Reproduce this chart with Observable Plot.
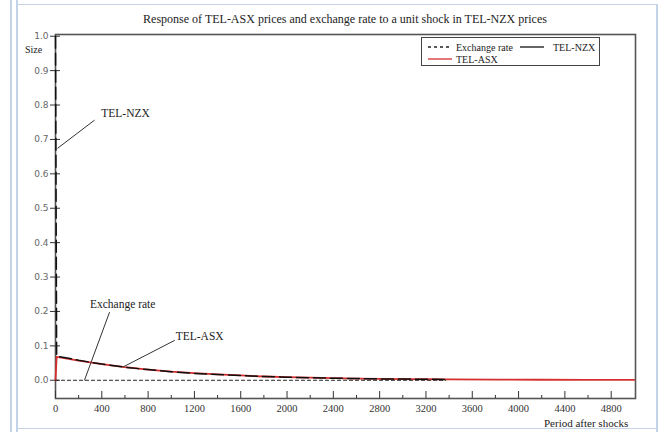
<!DOCTYPE html>
<html>
<head>
<meta charset="utf-8">
<script src="https://cdn.jsdelivr.net/npm/d3@7"></script>
<script src="https://cdn.jsdelivr.net/npm/@observablehq/plot@0.6"></script>
<style>
  html, body { margin: 0; padding: 0; background: #ffffff; }
  #wrap { position: relative; width: 663px; height: 432px; overflow: hidden; background: #fff; }
  .bl { position: absolute; background: #c3d3e8; }
  .txt { position: absolute; font-family: "Liberation Serif", serif; color: #222; white-space: nowrap; }
  #legend { position: absolute; left: 421px; top: 37px; width: 177px; height: 27px; border: 1px solid #444; background: #fff; }
</style>
</head>
<body>
<div id="wrap">
  <div class="bl" style="left:10px;top:0;width:2px;height:432px"></div>
  <div class="bl" style="left:16px;top:0;width:2px;height:432px"></div>
  <div class="bl" style="left:18px;top:4px;width:640px;height:1px"></div>
  <div class="bl" style="left:656px;top:4px;width:2px;height:428px"></div>
  <div class="bl" style="left:18px;top:428px;width:640px;height:1px"></div>
  <div id="chart" style="position:absolute;left:0;top:0"></div>
  <div class="txt" id="title" style="left:0;width:690px;text-align:center;top:12px;font-size:12px">Response of TEL-ASX prices and exchange rate to a unit shock in TEL-NZX prices</div>
  <div class="txt" style="left:25px;top:44px;font-size:10px">Size</div>
  <div class="txt" style="left:544px;top:417px;font-size:11px">Period after shocks</div>
  <div id="legend"></div>
</div>
<script>
// ---- data ----
const periods = [0, 10, 100, 200, 400, 600, 800, 1000, 1200, 1400, 1600, 1800, 2000, 2200, 2400, 2600, 2800, 3000, 3200, 3370];
const nzxValues = [1.0, 0.070, 0.065, 0.058, 0.047, 0.038, 0.031, 0.025, 0.020, 0.017, 0.014, 0.011, 0.009, 0.0075, 0.006, 0.005, 0.004, 0.0035, 0.003, 0.0025];
const exchangeValues = [0, 0, 0, 0, 0, 0, 0, 0, 0, 0, 0, 0, 0, 0, 0, 0, 0, 0, 0, 0];
const asxPeriods = [0, 10, 100, 200, 400, 600, 800, 1000, 1200, 1400, 1600, 1800, 2000, 2200, 2400, 2600, 2800, 3000, 3200, 3400, 3800, 4200, 4600, 5000];
const asxValues = [0, 0.068, 0.063, 0.057, 0.047, 0.038, 0.031, 0.025, 0.021, 0.017, 0.014, 0.011, 0.009, 0.0075, 0.006, 0.005, 0.004, 0.0035, 0.003, 0.0025, 0.002, 0.0015, 0.001, 0.001];
const xMajorTicks = [0, 400, 800, 1200, 1600, 2000, 2400, 2800, 3200, 3600, 4000, 4400, 4800];
const xMinorTicks = [200, 600, 1000, 1400, 1800, 2200, 2600, 3000, 3400, 3800, 4200, 4600];
const yTicks = [0, 0.1, 0.2, 0.3, 0.4, 0.5, 0.6, 0.7, 0.8, 0.9, 1.0];
const labelNames = ["TEL-NZX", "Exchange rate", "TEL-ASX"];
const labelX = [605, 580, 1245];
const labelY = [0.775, 0.22, 0.127];
const leaderX1 = [337, 467, 1030];
const leaderY1 = [0.756, 0.198, 0.116];
const leaderX2 = [17, 250, 580];
const leaderY2 = [0.674, 0.0, 0.038];

const nzx = periods.map((p, i) => ({p, v: nzxValues[i]}));
const exch = periods.map((p, i) => ({p, v: exchangeValues[i]}));
const asx = asxPeriods.map((p, i) => ({p, v: asxValues[i]}));
const labels = labelNames.map((n, i) => ({n, x: labelX[i], y: labelY[i], x1: leaderX1[i], y1: leaderY1[i], x2: leaderX2[i], y2: leaderY2[i]}));

const RED = "#d62f2f";
const blank = () => "";

const plot = Plot.plot({
  width: 663,
  height: 432,
  marginLeft: 55,
  marginRight: 28,
  marginTop: 34,
  marginBottom: 34,
  style: {fontFamily: "Liberation Serif, serif", background: "transparent", overflow: "visible"},
  x: {domain: [0, 5010]},
  y: {domain: [-0.053, 1.005]},
  marks: [
    Plot.frame({stroke: "#555", strokeWidth: 1.6}),
    // y axis: ticks crossing the axis
    Plot.axisY({ticks: yTicks, tickSize: 5, tickPadding: 2, tickFormat: d3.format(".1f"), label: null,
      fontFamily: "DejaVu Sans, sans-serif", fontSize: 9, fill: "#666", stroke: "#333"}),
    Plot.axisY({ticks: yTicks, tickSize: -5, tickFormat: blank, label: null, stroke: "#333"}),
    // x axis: inward ticks
    Plot.axisX({ticks: xMajorTicks, tickSize: -7, tickFormat: blank, label: null, stroke: "#333"}),
    Plot.axisX({ticks: xMinorTicks, tickSize: -3, tickFormat: blank, label: null, stroke: "#333"}),
    Plot.axisX({ticks: xMajorTicks, tickSize: 0, tickPadding: 6, tickFormat: d => String(d), label: null,
      fontSize: 10.5, fill: "#333"}),
    // series
    Plot.line(asx, {x: "p", y: "v", stroke: RED, strokeWidth: 1.8}),
    Plot.line(exch, {x: "p", y: "v", stroke: "#222", strokeWidth: 1.1, strokeDasharray: "3,3"}),
    Plot.line(nzx, {x: "p", y: "v", stroke: "#111", strokeWidth: 1.5, strokeDasharray: "12,5"}),
    // annotations
    Plot.link(labels, {x1: "x1", y1: "y1", x2: "x2", y2: "y2", stroke: "#333", strokeWidth: 1}),
    Plot.text(labels, {x: "x", y: "y", text: "n", fontSize: 11.5, fill: "#222"})
  ]
});
document.getElementById("chart").appendChild(plot);

// legend
const lg = d3.select("#legend").append("svg").attr("width", 177).attr("height", 27)
  .style("font-family", "Liberation Serif, serif");
const legendItems = [
  {name: "Exchange rate", color: "#222", dash: "3,3", x: 6, y: 9, tw: 34},
  {name: "TEL-NZX", color: "#111", dash: null, x: 98, y: 9, tw: 131},
  {name: "TEL-ASX", color: RED, dash: null, x: 6, y: 21, tw: 34}
];
legendItems.forEach(it => {
  lg.append("line").attr("x1", it.x).attr("x2", it.x + 24).attr("y1", it.y).attr("y2", it.y)
    .attr("stroke", it.color).attr("stroke-width", 1.3).attr("stroke-dasharray", it.dash);
  lg.append("text").attr("x", it.tw).attr("y", it.y + 3.5).attr("font-size", 10).attr("fill", "#222").text(it.name);
});
</script>
</body>
</html>
